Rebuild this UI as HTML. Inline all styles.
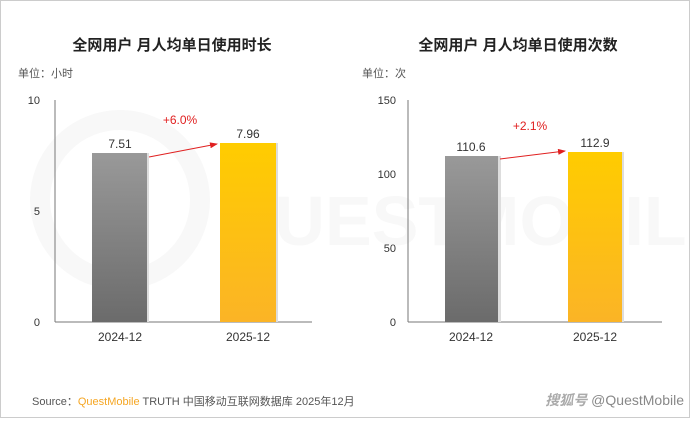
<!DOCTYPE html><html><head><meta charset="utf-8"><style>
body{margin:0;width:690px;height:418px;background:#fff;overflow:hidden;font-family:"Liberation Sans","Noto Sans CJK SC",sans-serif}
</style></head><body>
<svg width="690" height="418" xmlns="http://www.w3.org/2000/svg" font-family="Liberation Sans, Noto Sans CJK SC, sans-serif">
<defs>
<linearGradient id="g" x1="0" y1="0" x2="0" y2="1"><stop offset="0" stop-color="#999"/><stop offset="1" stop-color="#6b6b6b"/></linearGradient>
<linearGradient id="y" x1="0" y1="0" x2="0" y2="1"><stop offset="0" stop-color="#ffcc00"/><stop offset="1" stop-color="#fbb426"/></linearGradient>
<marker id="a" markerWidth="8" markerHeight="6" refX="7" refY="3" orient="auto"><path d="M0,0L8,3L0,6z" fill="#e02020"/></marker>
</defs>
<rect x="0.5" y="0.5" width="689" height="417" fill="#fff" stroke="#ccc"/>
<g fill="none" stroke="#f8f8f8" stroke-width="20"><circle cx="120" cy="200" r="80"/></g>
<text x="220" y="245" font-size="70" fill="#f8f8f8" font-weight="bold">QUESTMOBILE</text>
<!-- left -->
<text x="172" y="50" font-size="15" font-weight="bold" fill="#222" text-anchor="middle">全网用户 月人均单日使用时长</text>
<text x="18" y="77" font-size="11" fill="#555">单位：小时</text>
<line x1="55" y1="100" x2="55" y2="322" stroke="#777"/>
<line x1="55" y1="322" x2="312" y2="322" stroke="#777"/>
<g font-size="11" fill="#333" text-anchor="end"><text x="40" y="104">10</text><text x="40" y="215">5</text><text x="40" y="326">0</text></g>
<rect x="94" y="153" width="55" height="169" fill="#ddd"/>
<rect x="92" y="153" width="55" height="169" fill="url(#g)"/>
<rect x="222" y="143" width="56" height="179" fill="#ddd"/>
<rect x="220" y="143" width="56" height="179" fill="url(#y)"/>
<g font-size="12" fill="#333" text-anchor="middle"><text x="120" y="148">7.51</text><text x="248" y="138">7.96</text><text x="120" y="341">2024-12</text><text x="248" y="341">2025-12</text></g>
<text x="180" y="124" font-size="12" fill="#e02020" text-anchor="middle">+6.0%</text>
<line x1="149" y1="157" x2="217" y2="144" stroke="#e02020" marker-end="url(#a)"/>
<!-- right -->
<text x="518" y="50" font-size="15" font-weight="bold" fill="#222" text-anchor="middle">全网用户 月人均单日使用次数</text>
<text x="362" y="77" font-size="11" fill="#555">单位：次</text>
<line x1="408" y1="100" x2="408" y2="322" stroke="#777"/>
<line x1="408" y1="322" x2="662" y2="322" stroke="#777"/>
<g font-size="11" fill="#333" text-anchor="end"><text x="396" y="104">150</text><text x="396" y="178">100</text><text x="396" y="252">50</text><text x="396" y="326">0</text></g>
<rect x="447" y="156" width="54" height="166" fill="#ddd"/>
<rect x="445" y="156" width="53" height="166" fill="url(#g)"/>
<rect x="570" y="152" width="54" height="170" fill="#ddd"/>
<rect x="568" y="152" width="54" height="170" fill="url(#y)"/>
<g font-size="12" fill="#333" text-anchor="middle"><text x="471" y="151">110.6</text><text x="595" y="147">112.9</text><text x="471" y="341">2024-12</text><text x="595" y="341">2025-12</text></g>
<text x="530" y="130" font-size="12" fill="#e02020" text-anchor="middle">+2.1%</text>
<line x1="500" y1="159" x2="565" y2="151" stroke="#e02020" marker-end="url(#a)"/>
<!-- footer -->
<text x="32" y="405" font-size="11" fill="#555">Source：<tspan fill="#f5a623">QuestMobile</tspan> TRUTH 中国移动互联网数据库 2025年12月</text>
<text x="684" y="405" font-size="14" fill="#888" text-anchor="end"><tspan font-style="italic" font-weight="bold" fill="#aaa">搜狐号</tspan> @QuestMobile</text>
</svg>
</body></html>
